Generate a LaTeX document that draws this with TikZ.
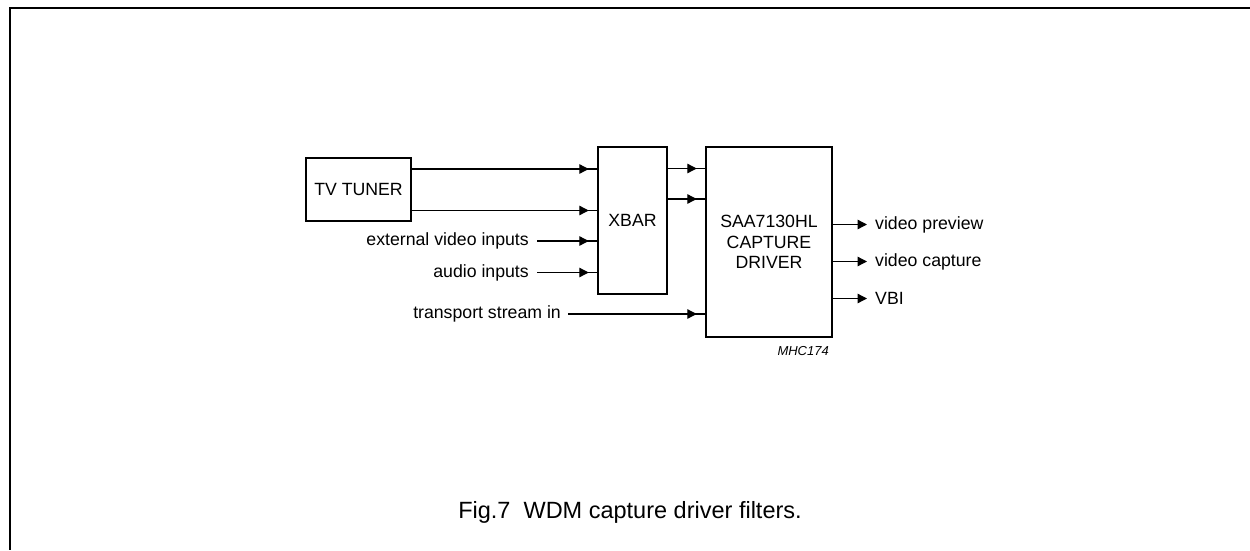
\documentclass[tikz,border=0pt]{standalone}
\usepackage{fontspec}
\setmainfont{Liberation Sans}
\usetikzlibrary{arrows.meta,decorations.markings}
\begin{document}
\begin{tikzpicture}[x=1pt,y=-1pt,
  blk/.style={draw,line width=2.5pt,inner sep=0pt,font=\fontsize{17.7}{20.5}\selectfont,align=center},
  lbl/.style={inner sep=0pt,font=\fontsize{17.7}{20}\selectfont},
  wire/.style={line width=1.3pt},
  tipin/.style={wire,postaction={decorate},decoration={markings,mark=at position -8pt with {\arrow{Triangle[length=9.5pt,width=9.5pt]}}}},
  tipend/.style={wire,-{Triangle[length=9.5pt,width=9.5pt]}}]
\useasboundingbox (0,0) rectangle (1250,550);
\draw[line width=1.8pt] (1250,8) -- (10,8) -- (10,550);
% blocks
\node[blk,minimum width=105pt,minimum height=63pt] (tuner) at (358.5,189.5) {TV TUNER};
\node[blk,minimum width=69pt,minimum height=147pt] (xbar) at (632.5,220.5) {XBAR};
\node[blk,minimum width=126pt,minimum height=190pt] (drv) at (769,242) {SAA7130HL\\CAPTURE\\DRIVER};
% input labels
\node[lbl,anchor=east] (ext) at (529,241) {external video inputs};
\node[lbl,anchor=east] (aud) at (529,272.5) {audio inputs};
\node[lbl,anchor=east] (ts) at (561,314) {transport stream in};
\coordinate (extS) at (537,241);
\coordinate (audS) at (537,272.5);
\coordinate (tsS) at (568,314);
% tuner -> xbar
\draw[tipin] ([yshift=20.5pt]tuner.east) -- ([yshift=20.5pt]tuner.east -| xbar.west);
\draw[tipin] ([yshift=-21pt]tuner.east) -- ([yshift=-21pt]tuner.east -| xbar.west);
\draw[tipin] (extS) -- (extS -| xbar.west);
\draw[tipin] (audS) -- (audS -| xbar.west);
\draw[tipin] (tsS) -- (tsS -| drv.west);
% xbar -> driver
\draw[tipin] (xbar.east |- 0,168.5) -- (drv.west |- 0,168.5);
\draw[tipin] (xbar.east |- 0,199) -- (drv.west |- 0,199);
% outputs
\node[lbl,anchor=west] (vp) at (875,224.5) {video preview};
\node[lbl,anchor=west] (vc) at (875,261.5) {video capture};
\node[lbl,anchor=west] (vbi) at (875,298.5) {VBI};
\draw[tipend] (drv.east |- vp.west) -- ([xshift=-8pt]vp.west);
\draw[tipend] (drv.east |- vc.west) -- ([xshift=-8pt]vc.west);
\draw[tipend] (drv.east |- vbi.west) -- ([xshift=-8pt]vbi.west);
% code and caption
\node[inner sep=0pt,anchor=base east,font=\fontsize{13}{15}\selectfont\itshape] (code) at (829,355) {MHC174};
\node[inner sep=0pt,anchor=base,font=\fontsize{23.5}{27}\selectfont] (cap) at (630,518) {Fig.7\ \ WDM capture driver filters.};
\end{tikzpicture}
\end{document}
